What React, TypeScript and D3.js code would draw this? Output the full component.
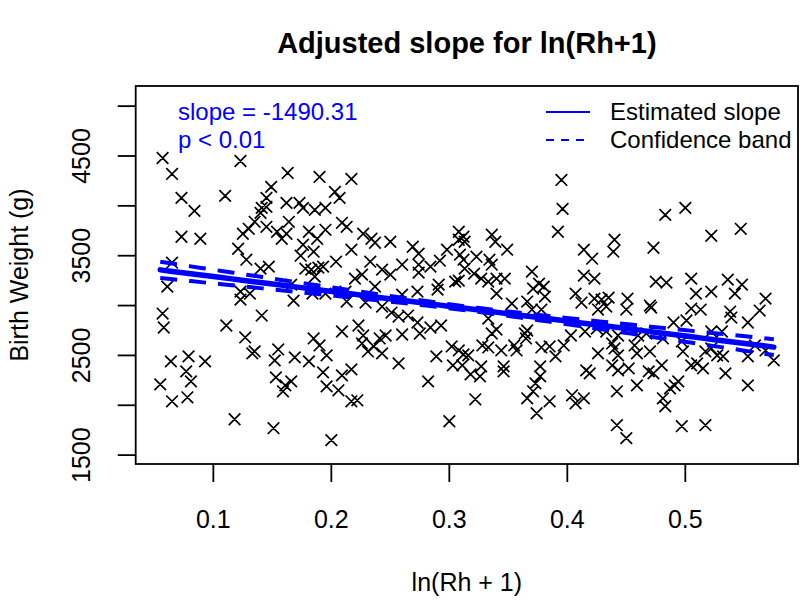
import React from "react";
import * as d3 from "d3";

// ---- Data ----
const rhValues = [
  0.057, 0.065, 0.073, 0.084, 0.073, 0.089, 0.065, 0.061, 0.057, 0.058, 0.064, 0.079, 0.093, 0.077, 0.081, 0.055, 0.065, 0.078,
  0.123, 0.110, 0.163, 0.149, 0.145, 0.162, 0.141, 0.145, 0.140, 0.135, 0.130, 0.125, 0.145, 0.154, 0.158, 0.164, 0.162, 0.121,
  0.128, 0.140, 0.147, 0.123, 0.123, 0.131, 0.141, 0.111, 0.127, 0.133, 0.135, 0.118, 0.152, 0.155, 0.153, 0.161, 0.159, 0.151,
  0.190, 0.217, 0.203, 0.207, 0.173, 0.176, 0.186, 0.195, 0.181, 0.195, 0.188, 0.209, 0.213, 0.227, 0.234, 0.237, 0.250, 0.217,
  0.176, 0.174, 0.185, 0.204, 0.178, 0.183, 0.189, 0.193, 0.186, 0.233, 0.243, 0.226, 0.260, 0.269, 0.274, 0.274, 0.274, 0.284,
  0.292, 0.298, 0.308, 0.308, 0.309, 0.291, 0.166, 0.168, 0.184, 0.195, 0.213, 0.212, 0.229, 0.243, 0.220, 0.237, 0.250, 0.260,
  0.273, 0.290, 0.305, 0.251, 0.257, 0.265, 0.273, 0.284, 0.293, 0.223, 0.209, 0.185, 0.190, 0.196, 0.169, 0.181, 0.193, 0.166,
  0.196, 0.206, 0.209, 0.217, 0.217, 0.222, 0.200, 0.227, 0.226, 0.231, 0.236, 0.241, 0.243, 0.260, 0.257, 0.275, 0.289, 0.282,
  0.302, 0.303, 0.300, 0.246, 0.395, 0.396, 0.392, 0.312, 0.313, 0.336, 0.339, 0.349, 0.312, 0.323, 0.334, 0.336, 0.313, 0.321,
  0.327, 0.333, 0.340, 0.347, 0.370, 0.376, 0.380, 0.371, 0.414, 0.421, 0.414, 0.423, 0.440, 0.439, 0.308, 0.381, 0.353, 0.366,
  0.370, 0.378, 0.340, 0.407, 0.423, 0.429, 0.435, 0.451, 0.412, 0.426, 0.450, 0.471, 0.470, 0.475, 0.484, 0.505, 0.509, 0.522,
  0.536, 0.548, 0.542, 0.568, 0.505, 0.513, 0.538, 0.563, 0.553, 0.539, 0.490, 0.501, 0.340, 0.366, 0.403, 0.433, 0.425, 0.443,
  0.467, 0.481, 0.355, 0.333, 0.378, 0.397, 0.438, 0.328, 0.312, 0.457, 0.316, 0.318, 0.326, 0.327, 0.322, 0.336, 0.344, 0.346,
  0.346, 0.357, 0.364, 0.365, 0.333, 0.385, 0.390, 0.415, 0.377, 0.377, 0.373, 0.371, 0.366, 0.385, 0.374, 0.404, 0.407, 0.414,
  0.416, 0.419, 0.426, 0.440, 0.443, 0.438, 0.443, 0.442, 0.442, 0.450, 0.433, 0.308, 0.311, 0.460, 0.459, 0.470, 0.480, 0.469,
  0.473, 0.452, 0.459, 0.494, 0.491, 0.487, 0.481, 0.483, 0.497, 0.498, 0.505, 0.510, 0.515, 0.517, 0.522, 0.527, 0.522, 0.531,
  0.534, 0.532, 0.553, 0.553, 0.575, 0.497, 0.517, 0.559, 0.568, 0.483, 0.500, 0.473, 0.522, 0.547,
];

const birthWeights = [
  4480, 4320, 4080, 3950, 3690, 3670, 3430, 3190, 2920, 2780, 2440, 2490, 2440, 2340, 2240, 2210, 2040, 2080,
  4450, 4100, 4330, 4190, 4080, 4030, 3980, 3990, 3930, 3840, 3770, 3720, 3790, 3740, 3670, 3840, 3720, 3570,
  3460, 3370, 3390, 3140, 3060, 3120, 2900, 2800, 2680, 2520, 2540, 1860, 2450, 2560, 2280, 2200, 2140, 1770,
  4290, 4270, 4140, 4080, 4030, 3980, 3960, 3980, 3740, 3760, 3670, 3830, 3790, 3720, 3670, 3630, 3640, 3560,
  3610, 3500, 3540, 3440, 3370, 3360, 3380, 3390, 3290, 3440, 3360, 3310, 3410, 3590, 3520, 3410, 3330, 3390,
  3450, 3560, 3740, 3660, 3510, 3210, 3210, 3050, 3120, 3120, 3040, 3140, 3030, 2990, 3270, 3190, 3310, 3110,
  3140, 3160, 3240, 2930, 2890, 2900, 2830, 2780, 2800, 2800, 2740, 2670, 2600, 2500, 2480, 2440, 2330, 2240,
  2190, 2150, 2300, 2360, 2040, 2050, 1650, 2700, 2620, 2540, 2590, 2670, 2520, 2710, 2420, 2720, 2490, 2240,
  2590, 2400, 1840, 2700, 4260, 3970, 3740, 3690, 3640, 3710, 3640, 3560, 3460, 3490, 3460, 3410, 3370, 3320,
  3270, 3240, 3270, 3270, 3340, 3220, 3190, 3170, 3560, 3470, 3300, 3270, 3660, 3540, 3250, 3090, 3020, 3040,
  2960, 2960, 3120, 3120, 3070, 3060, 3080, 3070, 3030, 2960, 2960, 2980, 3000, 3240, 3230, 3270, 3120, 3140,
  3260, 3210, 3120, 3070, 2970, 2960, 2940, 2950, 2830, 2880, 2830, 2850, 2760, 2750, 2700, 2740, 2770, 2700,
  2720, 2670, 2600, 2580, 2580, 2600, 2620, 2600, 2510, 2600, 2500, 2310, 2290, 2390, 2060, 2720, 2550, 2390,
  2340, 2550, 2720, 2670, 2870, 2590, 2490, 2740, 2390, 2290, 2220, 2140, 2070, 2040, 1920, 2100, 2020, 2070,
  2350, 2320, 2520, 2570, 2500, 2400, 2350, 2140, 1800, 1670, 2990, 2550, 2400, 2700, 2520, 2540, 2400, 2340,
  2320, 2370, 2200, 2240, 2200, 2170, 2070, 1990, 2640, 2540, 2400, 2420, 2370, 2540, 2570, 2500, 2740, 2740,
  2320, 2490, 2490, 2200, 2450, 1790, 1800, 2600, 2550, 3910, 3980, 3580, 3700, 3770,
];

const xTickValues = [0.1, 0.2, 0.3, 0.4, 0.5];
const yTickValues = [1500, 2000, 2500, 3000, 3500, 4000, 4500, 5000];
const yTickLabelValues = [1500, 2500, 3500, 4500];

// fitted model
const fitSlope = -1490.31;
const fitIntercept = 3440;
const bandCenterX = 0.318;
const bandHalfAtCenter = 20;
const bandSlopeSE = 300;

const titleText = "Adjusted slope for ln(Rh+1)";
const xLabel = "ln(Rh + 1)";
const yLabel = "Birth Weight (g)";
const legendLabels = ["Estimated slope", "Confidence band"];
const annotation = ["slope = -1490.31", "p < 0.01"];

const FONT = "'Liberation Sans', Arial, Helvetica, sans-serif";
const BLUE = "#0000ff";

export default function App() {
  const W = 800;
  const H = 607;
  const left = 135.7, right = 798, top = 86, bottom = 464;

  const x = d3.scaleLinear().domain([0.0342, 0.5955]).range([left, right]);
  const y = d3.scaleLinear().domain([1411, 5202]).range([bottom, top]);

  const points = rhValues.map((v, i) => ({ x: v, y: birthWeights[i] }));
  const [xMin, xMax] = d3.extent(rhValues) as [number, number];

  const fit = (v: number) => fitIntercept + fitSlope * v;
  const half = (v: number) =>
    Math.sqrt(bandHalfAtCenter * bandHalfAtCenter + bandSlopeSE * bandSlopeSE * (v - bandCenterX) * (v - bandCenterX));
  const grid = d3.range(0, 61).map((i) => xMin + ((xMax - xMin) * i) / 60);

  const line = d3
    .line<[number, number]>()
    .x((d) => x(d[0]))
    .y((d) => y(d[1]));

  const fitPath = line(grid.map((v) => [v, fit(v)]))!;
  const upPath = line(grid.map((v) => [v, fit(v) + half(v)]))!;
  const loPath = line(grid.map((v) => [v, fit(v) - half(v)]))!;

  const s = 5.8;
  const crossPath = points
    .map((p) => {
      const cx = x(p.x);
      const cy = y(p.y);
      return `M${cx - s},${cy - s}L${cx + s},${cy + s}M${cx - s},${cy + s}L${cx + s},${cy - s}`;
    })
    .join("");

  const fs = 25;

  return (
    <svg
      width={W}
      height={H}
      style={{ position: "absolute", left: 0, top: 0, background: "#fff" }}
      fontFamily={FONT}
    >
      <rect x={0} y={0} width={W} height={H} fill="#fff" />
      {/* points */}
      <path d={crossPath} stroke="#000" strokeWidth={1.7} fill="none" />

      {/* fitted line and band */}
      <path d={upPath} stroke={BLUE} strokeWidth={4} fill="none" strokeDasharray="17 12" />
      <path d={loPath} stroke={BLUE} strokeWidth={4} fill="none" strokeDasharray="17 12" />
      <path d={fitPath} stroke={BLUE} strokeWidth={5.5} fill="none" strokeLinecap="round" />

      {/* box */}
      <rect x={left} y={top} width={right - left} height={bottom - top} fill="none" stroke="#000" strokeWidth={1.8} />

      {/* x axis */}
      {xTickValues.map((t) => (
        <g key={`xt${t}`}>
          <line x1={x(t)} x2={x(t)} y1={bottom} y2={bottom + 18} stroke="#000" strokeWidth={1.8} />
          <text x={x(t)} y={528} textAnchor="middle" fontSize={fs}>
            {t.toFixed(1)}
          </text>
        </g>
      ))}
      {/* y axis */}
      {yTickValues.map((t) => (
        <line key={`yt${t}`} x1={left - 18} x2={left} y1={y(t)} y2={y(t)} stroke="#000" strokeWidth={1.8} />
      ))}
      {yTickLabelValues.map((t) => (
        <text key={`yl${t}`} transform={`translate(90,${y(t)}) rotate(-90)`} textAnchor="middle" fontSize={fs}>
          {t}
        </text>
      ))}

      {/* labels */}
      <text x={(left + right) / 2} y={53} textAnchor="middle" fontSize={29} fontWeight="bold">
        {titleText}
      </text>
      <text x={(left + right) / 2} y={591} textAnchor="middle" fontSize={fs}>
        {xLabel}
      </text>
      <text transform={`translate(28,${(top + bottom) / 2}) rotate(-90)`} textAnchor="middle" fontSize={fs}>
        {yLabel}
      </text>

      {/* annotation */}
      <text x={178} y={120} fontSize={24} fill={BLUE}>
        {annotation[0]}
      </text>
      <text x={178} y={148} fontSize={24} fill={BLUE}>
        {annotation[1]}
      </text>

      {/* legend */}
      <line x1={546} x2={590} y1={112} y2={112} stroke={BLUE} strokeWidth={2} />
      <line x1={546} x2={590} y1={140} y2={140} stroke={BLUE} strokeWidth={2} strokeDasharray="8 7" />
      <text x={610} y={120} fontSize={24}>
        {legendLabels[0]}
      </text>
      <text x={610} y={148} fontSize={24}>
        {legendLabels[1]}
      </text>
    </svg>
  );
}
